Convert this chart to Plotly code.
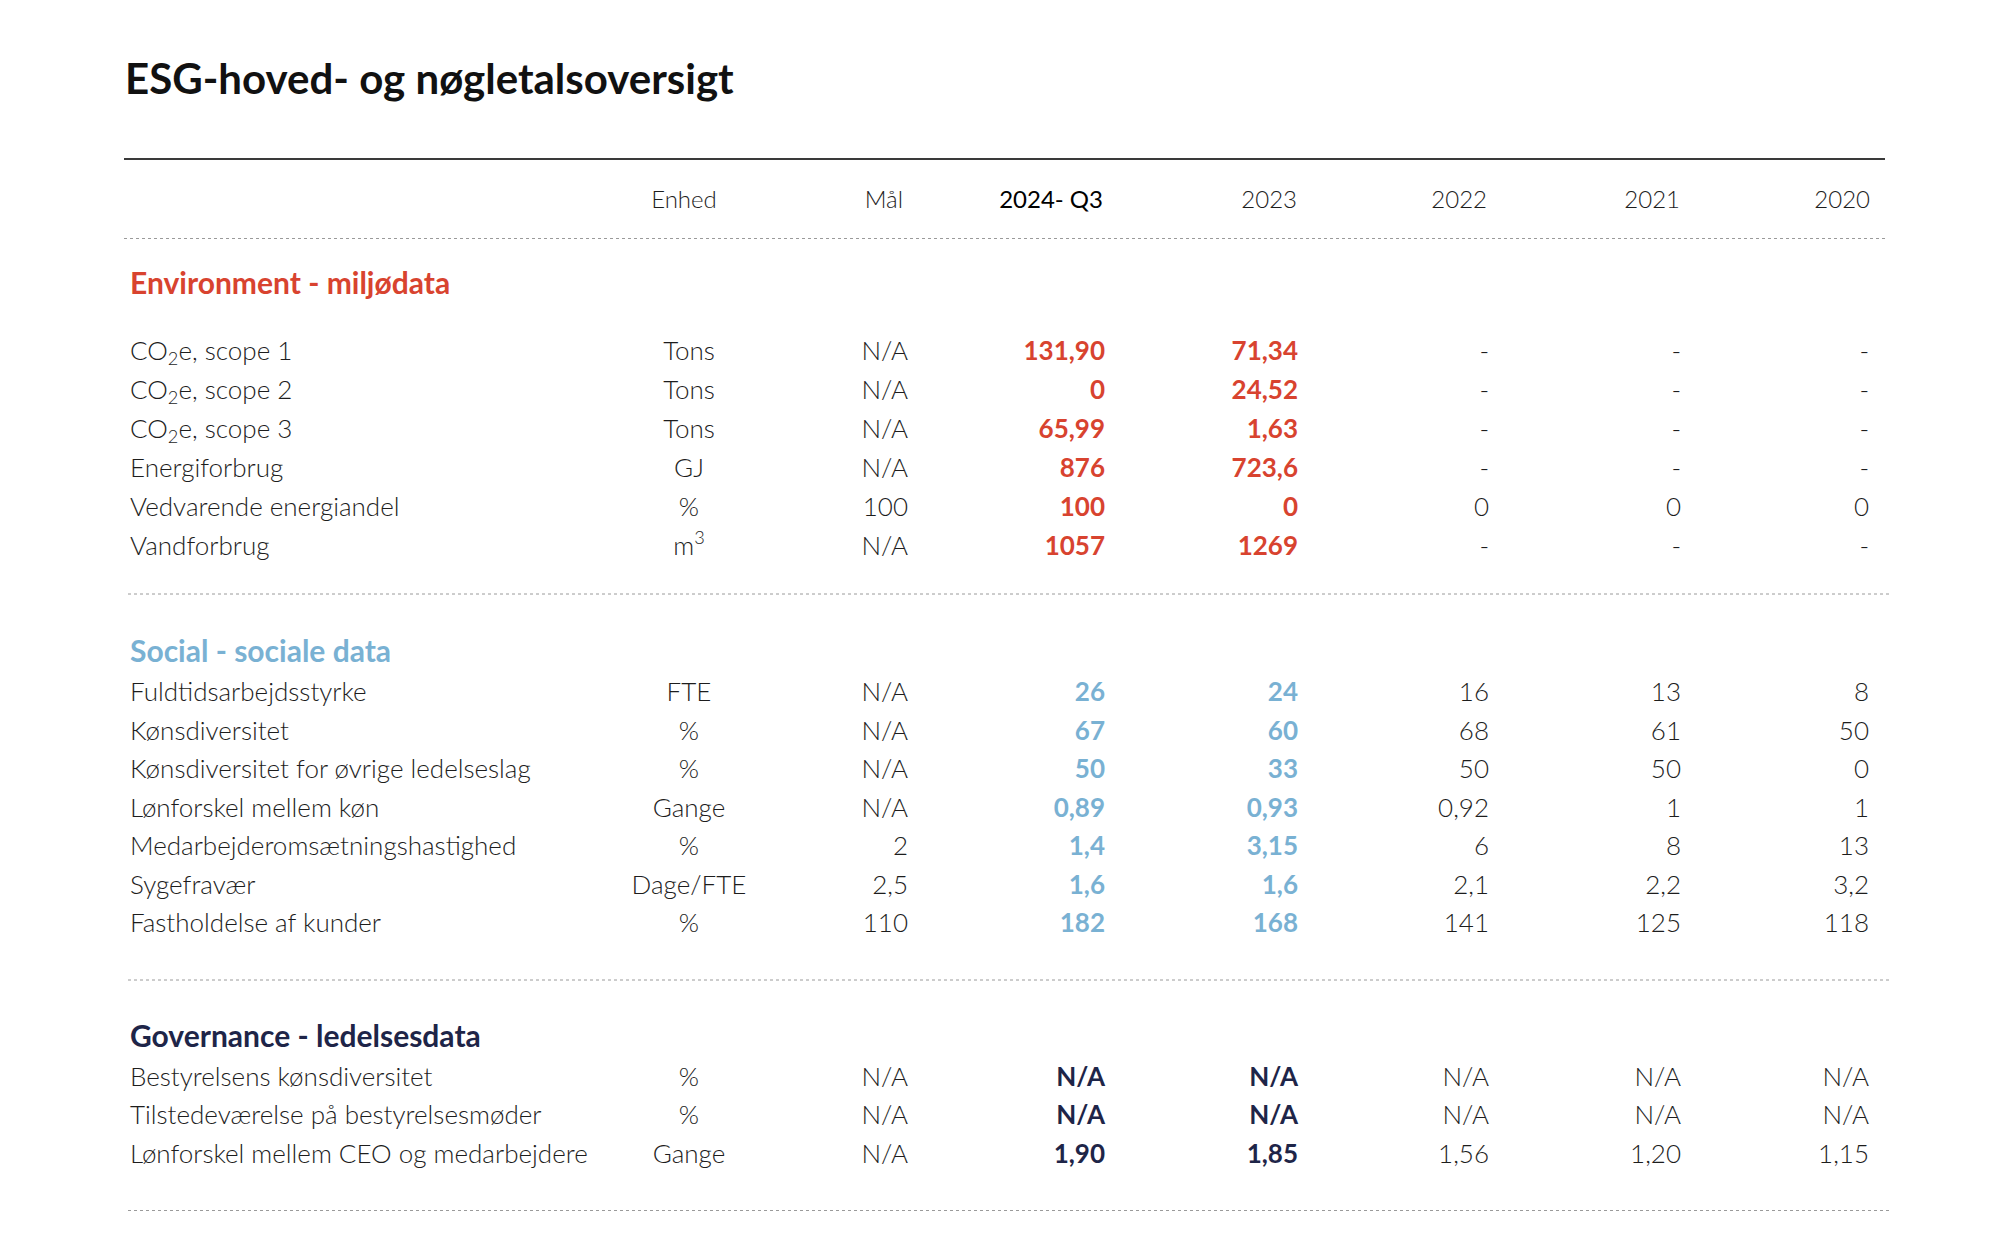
import plotly.graph_objects as go

# ---------------- DATA ----------------
title = "ESG-hoved- og nøgletalsoversigt"
col_headers = ["Enhed", "Mål", "2024- Q3", "2023", "2022", "2021", "2020"]

section_titles = ["Environment - miljødata", "Social - sociale data", "Governance - ledelsesdata"]
section_colors = ["#D8432F", "#79B1D3", "#1E2548"]

env_labels = ["CO<sub>2</sub>e, scope 1", "CO<sub>2</sub>e, scope 2", "CO<sub>2</sub>e, scope 3",
              "Energiforbrug", "Vedvarende energiandel", "Vandforbrug"]
env_units = ["Tons", "Tons", "Tons", "GJ", "%", "m<sup>3</sup>"]
env_goal = ["N/A", "N/A", "N/A", "N/A", "100", "N/A"]
env_2024 = ["131,90", "0", "65,99", "876", "100", "1057"]
env_2023 = ["71,34", "24,52", "1,63", "723,6", "0", "1269"]
env_2022 = ["-", "-", "-", "-", "0", "-"]
env_2021 = ["-", "-", "-", "-", "0", "-"]
env_2020 = ["-", "-", "-", "-", "0", "-"]

soc_labels = ["Fuldtidsarbejdsstyrke", "Kønsdiversitet", "Kønsdiversitet for øvrige ledelseslag",
              "Lønforskel mellem køn", "Medarbejderomsætningshastighed", "Sygefravær",
              "Fastholdelse af kunder"]
soc_units = ["FTE", "%", "%", "Gange", "%", "Dage/FTE", "%"]
soc_goal = ["N/A", "N/A", "N/A", "N/A", "2", "2,5", "110"]
soc_2024 = ["26", "67", "50", "0,89", "1,4", "1,6", "182"]
soc_2023 = ["24", "60", "33", "0,93", "3,15", "1,6", "168"]
soc_2022 = ["16", "68", "50", "0,92", "6", "2,1", "141"]
soc_2021 = ["13", "61", "50", "1", "8", "2,2", "125"]
soc_2020 = ["8", "50", "0", "1", "13", "3,2", "118"]

gov_labels = ["Bestyrelsens kønsdiversitet", "Tilstedeværelse på bestyrelsesmøder",
              "Lønforskel mellem CEO og medarbejdere"]
gov_units = ["%", "%", "Gange"]
gov_goal = ["N/A", "N/A", "N/A"]
gov_2024 = ["N/A", "N/A", "1,90"]
gov_2023 = ["N/A", "N/A", "1,85"]
gov_2022 = ["N/A", "N/A", "1,56"]
gov_2021 = ["N/A", "N/A", "1,20"]
gov_2020 = ["N/A", "N/A", "1,15"]

sections = [
    dict(labels=env_labels, units=env_units, goal=env_goal,
         years=[env_2024, env_2023, env_2022, env_2021, env_2020]),
    dict(labels=soc_labels, units=soc_units, goal=soc_goal,
         years=[soc_2024, soc_2023, soc_2022, soc_2021, soc_2020]),
    dict(labels=gov_labels, units=gov_units, goal=gov_goal,
         years=[gov_2024, gov_2023, gov_2022, gov_2021, gov_2020]),
]

# ---------------- LAYOUT / STYLE ----------------
W, H = 2000, 1233
OFF = 8          # page body margin: axis ranges expressed in page pixels
TY = 4           # visual centring tweak for text rows
FONT = "Lato, 'Noto Sans', sans-serif"
TXT = "#1d1d1d"
BODY = 26
HDR = 24
X_LABEL = 130
X_UNIT = 689
X_RIGHT = [908, 1105, 1298, 1489, 1681, 1869]   # Mål, 2024, 2023, 2022, 2021, 2020
HDR_X = [684, 903, 1103, 1297, 1487, 1680, 1870]
Y_HEADER = 198 + TY
sec_geom = [  # header y, first row y, row step, dotted line y below
    (282, 349.5, 39.0, 594),
    (650.5, 690.5, 38.5, 980),
    (1035.5, 1075.5, 38.3, 1210.5),
]

fig = go.Figure()


def text_trace(xs, ys, texts, pos, color, size=BODY, weight=300):
    fig.add_trace(go.Scatter(
        x=xs, y=ys, text=texts, mode="text", textposition=pos,
        textfont=dict(family=FONT, size=size, color=color, weight=weight),
        hoverinfo="skip", showlegend=False, cliponaxis=False,
    ))


# header row
text_trace([HDR_X[0]], [Y_HEADER], [col_headers[0]], "middle center", TXT, size=HDR)
text_trace([HDR_X[1]], [Y_HEADER], [col_headers[1]], "middle left", TXT, size=HDR)
text_trace([HDR_X[2]], [Y_HEADER], [col_headers[2]], "middle left", "#000000", size=HDR, weight=400)
text_trace(HDR_X[3:], [Y_HEADER] * 4, col_headers[3:], "middle left", TXT, size=HDR)

for sec, (hy, fy, step, ly), stitle, scol in zip(sections, sec_geom, section_titles, section_colors):
    n = len(sec["labels"])
    ys = [fy + TY + i * step for i in range(n)]
    text_trace([X_LABEL], [hy + TY], [stitle], "middle right", scol, size=30, weight=700)
    text_trace([X_LABEL] * n, ys, sec["labels"], "middle right", TXT)
    text_trace([X_UNIT] * n, ys, sec["units"], "middle center", TXT)
    text_trace([X_RIGHT[0]] * n, ys, sec["goal"], "middle left", TXT)
    for j, vals in enumerate(sec["years"]):
        if j < 2:
            text_trace([X_RIGHT[j + 1]] * n, ys, vals, "middle left", scol, weight=700)
        else:
            text_trace([X_RIGHT[j + 1]] * n, ys, vals, "middle left", TXT)
    fig.add_shape(type="line", x0=128, x1=1889, y0=ly, y1=ly, xref="x", yref="y",
                  line=dict(color="#9a9a9a", width=1, dash="dot"))

# table rules
fig.add_shape(type="line", x0=124, x1=1885, y0=159, y1=159, xref="x", yref="y",
              line=dict(color="#3a3a3a", width=2))
fig.add_shape(type="line", x0=124, x1=1885, y0=238.5, y1=238.5, xref="x", yref="y",
              line=dict(color="#9a9a9a", width=1, dash="dot"))

fig.update_layout(
    width=W, height=H,
    margin=dict(l=0, r=0, t=0, b=0),
    paper_bgcolor="white", plot_bgcolor="white",
    xaxis=dict(range=[OFF, W + OFF], visible=False, fixedrange=True),
    yaxis=dict(range=[H + OFF, OFF], visible=False, fixedrange=True),
    title=dict(text=title, x=(125 - OFF) / W, xanchor="left", y=1 - (79 - OFF) / H,
               yanchor="middle",
               font=dict(family=FONT, size=42, color="#111111", weight=700)),
    hovermode=False,
)

fig.write_html("out.html")
